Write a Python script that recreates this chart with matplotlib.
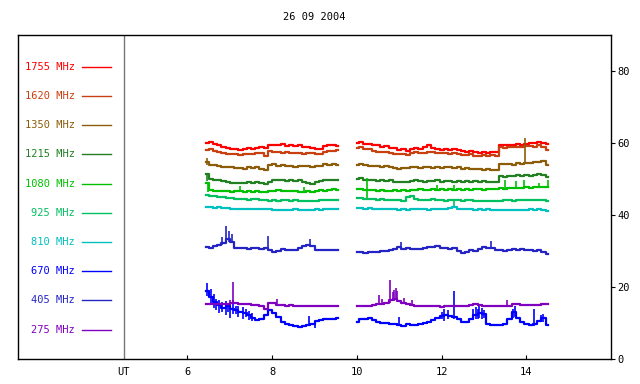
import numpy as np
import matplotlib
matplotlib.use("Agg")
import matplotlib.pyplot as plt

plt.rcParams['font.family'] = 'DejaVu Sans Mono'

title = "26 09 2004"
freqs = ["1755", "1620", "1350", "1215", "1080", "925", "810", "670", "405", "275"]
colors = ["#ff0000", "#c84010", "#8c5c08", "#228022", "#00c000",
          "#00c060", "#00c0c0", "#0000ff", "#2424c4", "#8000c0"]

# two observing windows (UT hours), 0.1 h sampling
t1 = np.round(np.arange(6.45, 9.56, 0.1), 2)
t2 = np.round(np.arange(10.0, 14.51, 0.1), 2)

# flux, first window
s1 = {
    "1755": [60.0, 60.2, 59.7, 59.3, 59.0, 58.5, 58.4, 58.3, 58.1, 58.4, 58.6, 58.4, 58.6, 58.9, 58.7, 59.4,
             59.5, 59.3, 59.6, 59.2, 59.4, 59.1, 59.3, 58.9, 58.8, 58.6, 58.4, 58.3, 59.2, 59.3, 59.4, 59.2],
    "1620": [58.1, 58.3, 57.8, 57.6, 57.2, 57.0, 56.8, 56.9, 56.7, 56.9, 57.0, 56.8, 57.1, 57.2, 56.3, 57.7,
             57.6, 57.5, 57.2, 57.4, 57.3, 57.2, 57.3, 57.0, 57.2, 57.1, 56.8, 57.0, 57.5, 57.7, 57.9, 58.0],
    "1350": [54.8, 54.0, 53.8, 53.5, 53.4, 53.2, 53.3, 53.0, 53.1, 52.8, 53.2, 53.0, 53.3, 52.9, 52.4, 54.0,
             54.1, 53.7, 53.8, 53.5, 53.6, 53.4, 53.7, 53.5, 53.6, 53.3, 53.5, 53.7, 54.2, 54.0, 54.2, 53.9],
    "1215": [51.5, 49.9, 49.7, 49.6, 49.4, 49.2, 49.0, 48.8, 49.0, 48.9, 49.1, 48.9, 49.2, 49.0, 48.6, 49.3,
             49.8, 49.6, 49.8, 49.5, 49.7, 49.4, 49.6, 49.3, 49.0, 48.7, 49.1, 49.5, 49.6, 49.8, 49.7, 49.6],
    "1080": [48.9, 47.0, 46.8, 46.7, 46.6, 46.7, 46.5, 46.8, 46.6, 46.4, 46.7, 46.5, 46.6, 46.4, 46.3, 46.8,
             46.7, 46.9, 46.7, 46.8, 46.6, 46.7, 46.5, 46.4, 46.6, 46.5, 46.7, 46.9, 46.8, 47.0, 47.1, 47.0],
    "925": [45.6, 45.3, 45.4, 45.0, 44.9, 44.8, 44.6, 44.5, 44.4, 44.5, 44.3, 44.5, 44.4, 44.3, 44.1, 43.9,
            44.2, 44.0, 44.1, 44.2, 44.0, 44.1, 43.9, 44.0, 43.9, 43.8, 43.9, 44.1, 44.3, 44.1, 44.2, 44.2],
    "810": [42.1, 42.2, 42.0, 42.1, 41.9, 42.0, 41.7, 41.8, 41.6, 41.7, 41.8, 41.7, 41.6, 41.8, 41.6, 41.7,
            41.3, 41.5, 41.4, 41.5, 41.4, 41.6, 41.4, 41.5, 41.4, 41.5, 41.6, 41.5, 41.7, 41.6, 41.7, 41.7],
    "670": [19.0, 17.2, 15.8, 15.0, 14.3, 14.6, 14.0, 13.6, 13.2, 12.8, 12.2, 11.5, 10.8, 11.2, 12.3, 13.6,
            12.9, 11.6, 10.2, 9.6, 9.4, 9.2, 9.0, 9.3, 9.5, 9.7, 10.5, 10.9, 11.0, 11.2, 11.1, 11.3],
    "405": [31.2, 30.7, 31.5, 31.8, 32.3, 33.2, 32.5, 30.8, 30.7, 30.9, 30.6, 30.8, 30.7, 30.6, 30.9, 30.2,
            29.7, 30.0, 30.6, 30.4, 30.3, 30.4, 30.8, 31.4, 31.7, 31.3, 30.4, 30.2, 30.3, 30.2, 30.4, 30.3],
    "275": [15.3, 15.2, 15.4, 15.3, 15.2, 15.4, 15.6, 15.5, 15.4, 15.2, 15.3, 14.9, 15.1, 14.6, 14.0, 15.5,
            15.7, 15.0, 15.1, 14.8, 14.9, 14.8, 14.7, 14.8, 14.7, 14.7, 14.8, 14.7, 14.7, 14.8, 14.7, 14.7],
}

# flux, second window
s2 = {
    "1755": [60.0, 60.2, 59.6, 59.8, 59.5, 59.3, 59.0, 59.2, 58.7, 58.5, 58.1, 58.3, 57.9, 58.4, 58.6, 58.2,
             58.8, 59.3, 58.5, 58.4, 58.1, 58.4, 58.0, 58.3, 58.1, 57.8, 57.6, 57.9, 57.4, 57.3, 57.5, 57.2,
             57.6, 57.4, 59.4, 59.3, 59.5, 59.4, 59.6, 59.5, 59.7, 60.1, 59.9, 60.3, 60.0, 59.6],
    "1620": [58.6, 58.9, 58.3, 58.2, 57.8, 57.6, 57.4, 57.5, 57.2, 57.0, 56.8, 57.0, 56.7, 57.2, 57.4, 57.2,
             57.3, 57.6, 57.4, 57.2, 57.1, 57.3, 57.0, 57.2, 57.0, 56.7, 56.6, 56.9, 56.4, 56.5, 56.6, 56.4,
             56.7, 56.5, 58.9, 58.7, 58.9, 58.8, 59.0, 58.9, 59.1, 59.2, 59.0, 59.3, 58.9, 58.0],
    "1350": [54.0, 54.1, 53.8, 53.7, 53.6, 53.7, 53.4, 53.5, 53.3, 53.0, 52.9, 53.1, 53.0, 53.3, 53.4, 53.1,
             53.3, 53.4, 53.1, 53.2, 53.0, 53.3, 53.2, 53.0, 53.2, 52.9, 53.1, 52.8, 52.7, 52.9, 52.6, 52.7,
             52.5, 52.6, 54.3, 54.1, 54.2, 54.0, 54.4, 54.3, 54.5, 54.4, 54.6, 54.8, 55.0, 53.9],
    "1215": [49.9, 50.2, 49.8, 49.6, 49.7, 49.5, 49.7, 49.4, 49.6, 49.3, 49.1, 49.3, 49.2, 49.4, 49.6, 49.5,
             49.3, 49.5, 49.4, 49.6, 49.3, 49.5, 49.4, 49.2, 49.5, 49.3, 49.4, 49.2, 49.4, 49.3, 49.5, 49.2,
             49.3, 49.2, 50.8, 50.6, 50.9, 50.7, 51.0, 50.8, 51.1, 50.9, 51.2, 51.4, 51.1, 50.5],
    "1080": [47.1, 47.3, 47.0, 46.9, 47.0, 46.8, 46.9, 46.7, 46.8, 46.9, 46.7, 46.9, 46.8, 47.0, 46.9, 47.1,
             46.9, 47.0, 47.2, 47.0, 47.1, 46.9, 47.1, 47.0, 47.2, 47.0, 47.1, 46.9, 47.1, 47.2, 47.0, 47.2,
             47.1, 47.3, 47.4, 47.3, 47.5, 47.4, 47.6, 47.5, 47.7, 47.6, 47.8, 47.7, 47.9, 47.8],
    "925": [44.6, 44.7, 44.5, 44.4, 44.5, 44.3, 44.4, 44.2, 44.3, 44.2, 44.1, 44.0, 45.0, 45.3, 44.4, 44.2,
            44.3, 44.1, 44.4, 44.2, 44.3, 44.0, 44.2, 44.1, 44.3, 44.0, 44.2, 44.1, 43.9, 44.0, 43.9, 44.0,
            43.8, 43.9, 44.0, 44.1, 44.3, 44.0, 44.2, 44.1, 44.3, 44.2, 44.3, 44.1, 44.2, 44.0],
    "810": [42.0, 41.9, 41.8, 41.9, 41.7, 41.8, 41.6, 41.7, 41.6, 41.7, 41.5, 41.6, 41.4, 41.7, 41.6, 41.8,
            41.7, 41.5, 41.7, 41.6, 41.8, 41.6, 41.9, 42.3, 41.7, 41.8, 41.6, 41.7, 41.5, 41.6, 41.5, 41.6,
            41.4, 41.5, 41.4, 41.3, 41.5, 41.4, 41.5, 41.3, 41.5, 41.6, 41.4, 41.6, 41.3, 41.2],
    "670": [10.3, 11.0, 11.2, 11.3, 10.8, 10.4, 10.0, 9.9, 9.8, 9.6, 9.5, 9.3, 9.6, 9.4, 9.5, 9.6,
            9.9, 10.4, 10.8, 11.4, 12.0, 12.3, 12.0, 11.6, 11.1, 10.4, 10.2, 11.0, 12.2, 12.8, 12.6, 9.6,
            9.5, 9.4, 9.5, 9.8, 11.2, 13.0, 11.4, 10.2, 9.8, 9.4, 9.6, 10.6, 11.4, 9.5],
    "405": [29.6, 29.8, 29.5, 29.6, 29.7, 29.8, 30.0, 30.1, 30.3, 30.5, 31.0, 30.6, 30.7, 30.5, 30.6, 30.5,
            30.9, 31.2, 31.0, 31.3, 30.8, 30.9, 30.5, 30.7, 29.9, 29.4, 29.8, 30.2, 30.0, 30.5, 31.0, 30.8,
            30.7, 30.4, 30.2, 30.0, 30.3, 30.5, 30.4, 30.6, 30.2, 30.3, 30.1, 30.2, 29.6, 29.2],
    "275": [14.7, 14.6, 14.7, 14.8, 14.9, 15.4, 15.3, 15.6, 16.5, 16.8, 16.2, 15.6, 15.2, 15.0, 14.7, 14.8,
            14.7, 14.6, 14.7, 14.6, 14.5, 14.6, 14.6, 14.6, 14.7, 14.6, 14.7, 14.9, 15.3, 15.0, 14.8, 14.7,
            14.6, 14.7, 14.6, 14.7, 14.8, 15.2, 15.3, 15.1, 15.0, 15.1, 15.0, 15.1, 15.2, 15.2],
}

# short bursts / glitches: (UT, low, high)
spikes = {
    "1350": [(13.97, 54.3, 61.3), (6.46, 54.0, 55.8)],
    "1215": [(6.46, 49.5, 51.8)],
    "1080": [(6.48, 46.5, 49.2), (7.25, 46.5, 48.0), (8.75, 46.4, 47.8), (10.23, 44.3, 50.2),
             (11.9, 46.9, 48.4), (12.3, 46.9, 48.2), (13.5, 47.2, 49.8), (13.75, 47.3, 49.4),
             (13.95, 47.4, 49.8), (14.3, 47.6, 48.8), (14.52, 47.7, 49.8)],
    "925": [(12.3, 41.9, 44.4)],
    "670": [(6.47, 17.5, 21.0), (6.55, 15.5, 19.5), (6.62, 14.2, 18.0), (6.68, 13.6, 16.8),
            (6.75, 12.8, 16.5), (6.82, 13.0, 15.8), (6.9, 12.2, 16.2), (6.95, 13.2, 15.4),
            (7.0, 11.5, 15.5), (7.08, 12.4, 16.4), (7.14, 12.6, 14.8), (7.2, 11.8, 14.8),
            (7.3, 11.2, 14.4), (7.38, 11.6, 13.8), (7.45, 10.8, 13.4), (7.52, 10.6, 12.8),
            (7.9, 12.4, 14.4), (8.88, 9.5, 11.9), (9.02, 8.5, 10.4), (11.0, 9.2, 11.6),
            (12.0, 11.0, 13.2), (12.05, 10.5, 13.8), (12.15, 11.0, 13.5), (12.3, 11.2, 18.9),
            (12.75, 10.8, 13.8), (12.8, 11.0, 14.5), (12.85, 11.2, 14.0), (12.88, 11.5, 14.8),
            (12.95, 11.2, 14.2), (13.0, 11.4, 13.6), (13.68, 11.4, 13.8), (13.72, 11.8, 14.8),
            (14.17, 9.2, 13.9), (14.34, 10.2, 12.2), (14.38, 10.4, 12.6)],
    "405": [(6.82, 31.8, 34.0), (6.9, 32.2, 36.9), (6.98, 32.6, 35.5), (7.05, 32.2, 34.8),
            (7.9, 30.5, 34.2), (8.9, 31.4, 33.2), (11.03, 30.6, 32.4), (13.17, 30.6, 32.8)],
    "275": [(7.0, 15.3, 16.3), (7.08, 15.4, 21.4), (8.12, 15.0, 16.8), (10.52, 15.3, 17.8),
            (10.6, 15.3, 16.8), (10.79, 15.6, 21.9), (10.85, 16.0, 18.5), (10.88, 16.2, 19.2),
            (10.92, 16.4, 19.6), (10.95, 16.3, 18.8), (11.12, 15.5, 17.0), (11.31, 15.0, 16.5),
            (13.55, 14.7, 16.4)],
}

fig = plt.figure(figsize=(6.4, 3.84), dpi=100)
ax = fig.add_axes([0.028, 0.065, 0.927, 0.844])

for f, c in zip(freqs, colors):
    ax.plot(t1, s1[f], color=c, lw=1.6, drawstyle="steps-mid")
    ax.plot(t2, s2[f], color=c, lw=1.6, drawstyle="steps-mid")
    if f in spikes:
        sp = np.array(spikes[f])
        ax.vlines(sp[:, 0], sp[:, 1], sp[:, 2], color=c, lw=1.2)

# legend column on the left
leg_y = 81.1 - 8.1 * np.arange(len(freqs))
for f, c, y in zip(freqs, colors, leg_y):
    ax.text(3.34, y, f + " MHz", color=c, ha="right", va="center", fontsize=7.5)
    ax.plot([3.51, 4.19], [y, y], color=c, lw=1)

ax.axvline(4.5, color="#777777", lw=1)

ax.set_xlim(2, 16)
ax.set_ylim(0, 90)
ax.set_xticks([4.5, 6, 8, 10, 12, 14])
ax.set_xticklabels(["UT", "6", "8", "10", "12", "14"])
ax.tick_params(axis="x", direction="in", length=3, labelsize=7.5, pad=6)
ax.xaxis.get_major_ticks()[0].tick1line.set_visible(False)
ax.yaxis.tick_right()
ax.set_yticks([0, 20, 40, 60, 80])
ax.tick_params(axis="y", direction="out", length=3, labelsize=7.5, pad=1.5)
for sp_ in ax.spines.values():
    sp_.set_linewidth(1)

fig.text(0.491, 0.955, title, ha="center", va="center", fontsize=7.5)

fig.savefig("out.png", dpi=100)
